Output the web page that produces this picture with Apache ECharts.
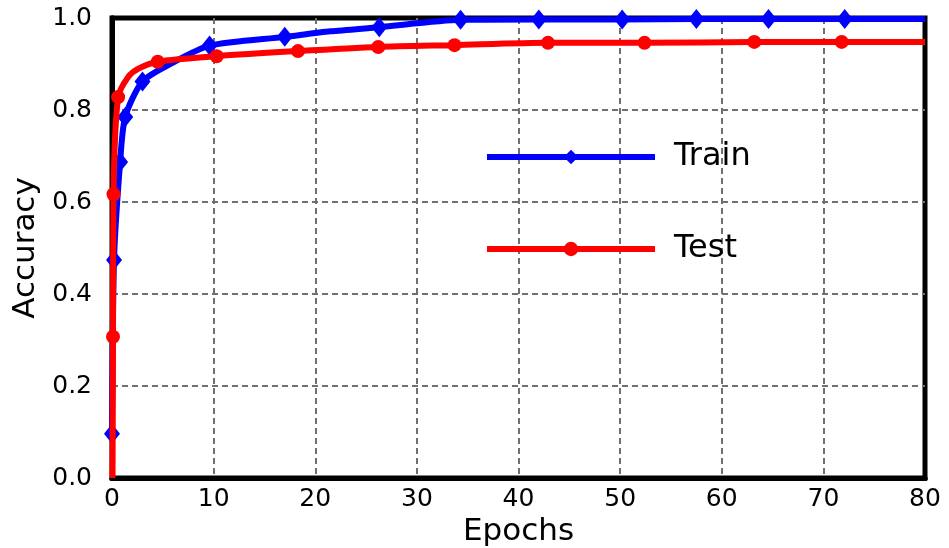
<!DOCTYPE html>
<html>
<head>
<meta charset="utf-8">
<script src="https://cdn.jsdelivr.net/npm/echarts@6/dist/echarts.min.js"></script>
<style>
  html, body { margin: 0; padding: 0; background: #fff; }
  #main { width: 949px; height: 548px; }
</style>
</head>
<body>
<div id="main"></div>
<script>
// values (mark = 1 where the reference draws a marker)
var trainEpochs = [0, 0.2, 0.8, 1.3, 3.0, 5.9, 9.6, 17.0, 21.5, 26.3, 34.3, 42.0, 50.2, 57.5, 64.6, 72.1, 80];
var trainAcc    = [0.096, 0.474, 0.687, 0.785, 0.862, 0.902, 0.940, 0.959, 0.971, 0.980, 0.996, 0.997, 0.997, 0.998, 0.998, 0.998, 0.998];
var trainMark   = [1, 1, 1, 1, 1, 0, 1, 1, 0, 1, 1, 1, 1, 1, 1, 1, 0];

var testEpochs = [0.05, 0.1, 0.15, 0.6, 1.6, 2.6, 4.5, 10.3, 18.3, 26.2, 33.7, 42.9, 52.4, 63.2, 71.8, 80];
var testAcc    = [0.0, 0.307, 0.617, 0.828, 0.872, 0.890, 0.905, 0.917, 0.928, 0.937, 0.941, 0.946, 0.946, 0.948, 0.948, 0.948];
var testMark   = [0, 1, 1, 1, 0, 0, 1, 1, 1, 1, 1, 1, 1, 1, 1, 0];

var xTicks = [0, 10, 20, 30, 40, 50, 60, 70, 80];
var yTicks = [0.0, 0.2, 0.4, 0.6, 0.8, 1.0];

function build(xs, ys, marks) {
    var out = [];
    for (var i = 0; i < xs.length; i++) {
        var item = { value: [xs[i], ys[i]] };
        if (!marks[i]) item.symbol = 'none';
        out.push(item);
    }
    return out;
}

var font = 'DejaVu Sans';
var dash = { color: '#707070', width: 2, type: [6, 4] };
var myChart = echarts.init(document.getElementById('main'));

var option = {
    animation: false,
    grid: {
        left: 112, right: 24, top: 18, bottom: 70,
        outerBoundsMode: 'none',
        containLabel: false,
        show: true,
        borderColor: '#000',
        borderWidth: 5,
        backgroundColor: '#fff'
    },
    legend: {
        orient: 'vertical',
        left: 479,
        top: 136,
        itemWidth: 168,
        itemHeight: 18,
        itemGap: 60,
        lineStyle: { width: 6 },
        textStyle: { fontFamily: font, fontSize: 32, color: '#000', padding: [0, 0, 0, 14] },
        data: ['Train', 'Test']
    },
    xAxis: [{
        type: 'value',
        min: 0, max: 80, interval: 10,
        name: 'Epochs',
        nameLocation: 'middle',
        nameGap: 32,
        nameTextStyle: { fontFamily: font, fontSize: 31, color: '#000' },
        axisLine: { show: true, lineStyle: { color: '#000', width: 5 } },
        axisTick: { show: false },
        axisLabel: {
            fontFamily: font, fontSize: 25, color: '#000', margin: 9,
            formatter: function (v) { return xTicks.indexOf(v) >= 0 ? String(v) : ''; }
        },
        splitLine: { show: true, showMinLine: false, showMaxLine: false, lineStyle: dash }
    }, {
        type: 'value', position: 'top',
        min: 0, max: 80, interval: 10,
        axisLine: { show: true, lineStyle: { color: '#000', width: 5 } },
        axisTick: { show: false }, axisLabel: { show: false }, splitLine: { show: false }
    }],
    yAxis: [{
        type: 'value',
        min: 0, max: 1, interval: 0.2,
        name: 'Accuracy',
        nameLocation: 'middle',
        nameGap: 67,
        nameTextStyle: { fontFamily: font, fontSize: 31, color: '#000' },
        axisLine: { show: true, lineStyle: { color: '#000', width: 5 } },
        axisTick: { show: false },
        axisLabel: {
            fontFamily: font, fontSize: 25, color: '#000', margin: 20,
            formatter: function (v) {
                for (var i = 0; i < yTicks.length; i++) {
                    if (Math.abs(yTicks[i] - v) < 1e-6) return yTicks[i].toFixed(1);
                }
                return '';
            }
        },
        splitLine: { show: true, showMinLine: false, showMaxLine: false, lineStyle: dash }
    }, {
        type: 'value', position: 'right',
        min: 0, max: 1, interval: 0.2,
        axisLine: { show: true, lineStyle: { color: '#000', width: 5 } },
        axisTick: { show: false }, axisLabel: { show: false }, splitLine: { show: false }
    }],
    series: [
        {
            name: 'Train',
            type: 'line',
            data: build(trainEpochs, trainAcc, trainMark),
            smooth: 0.25,
            symbol: 'diamond',
            symbolSize: [16, 20],
            showAllSymbol: true,
            clip: false,
            color: '#0000ff',
            lineStyle: { color: '#0000ff', width: 6 },
            itemStyle: { color: '#0000ff' },
            z: 2
        },
        {
            name: 'Test',
            type: 'line',
            data: build(testEpochs, testAcc, testMark),
            smooth: 0.25,
            symbol: 'circle',
            symbolSize: 14,
            showAllSymbol: true,
            clip: false,
            color: '#ff0000',
            lineStyle: { color: '#ff0000', width: 6 },
            itemStyle: { color: '#ff0000' },
            z: 3
        }
    ]
};

myChart.setOption(option);
</script>
</body>
</html>
